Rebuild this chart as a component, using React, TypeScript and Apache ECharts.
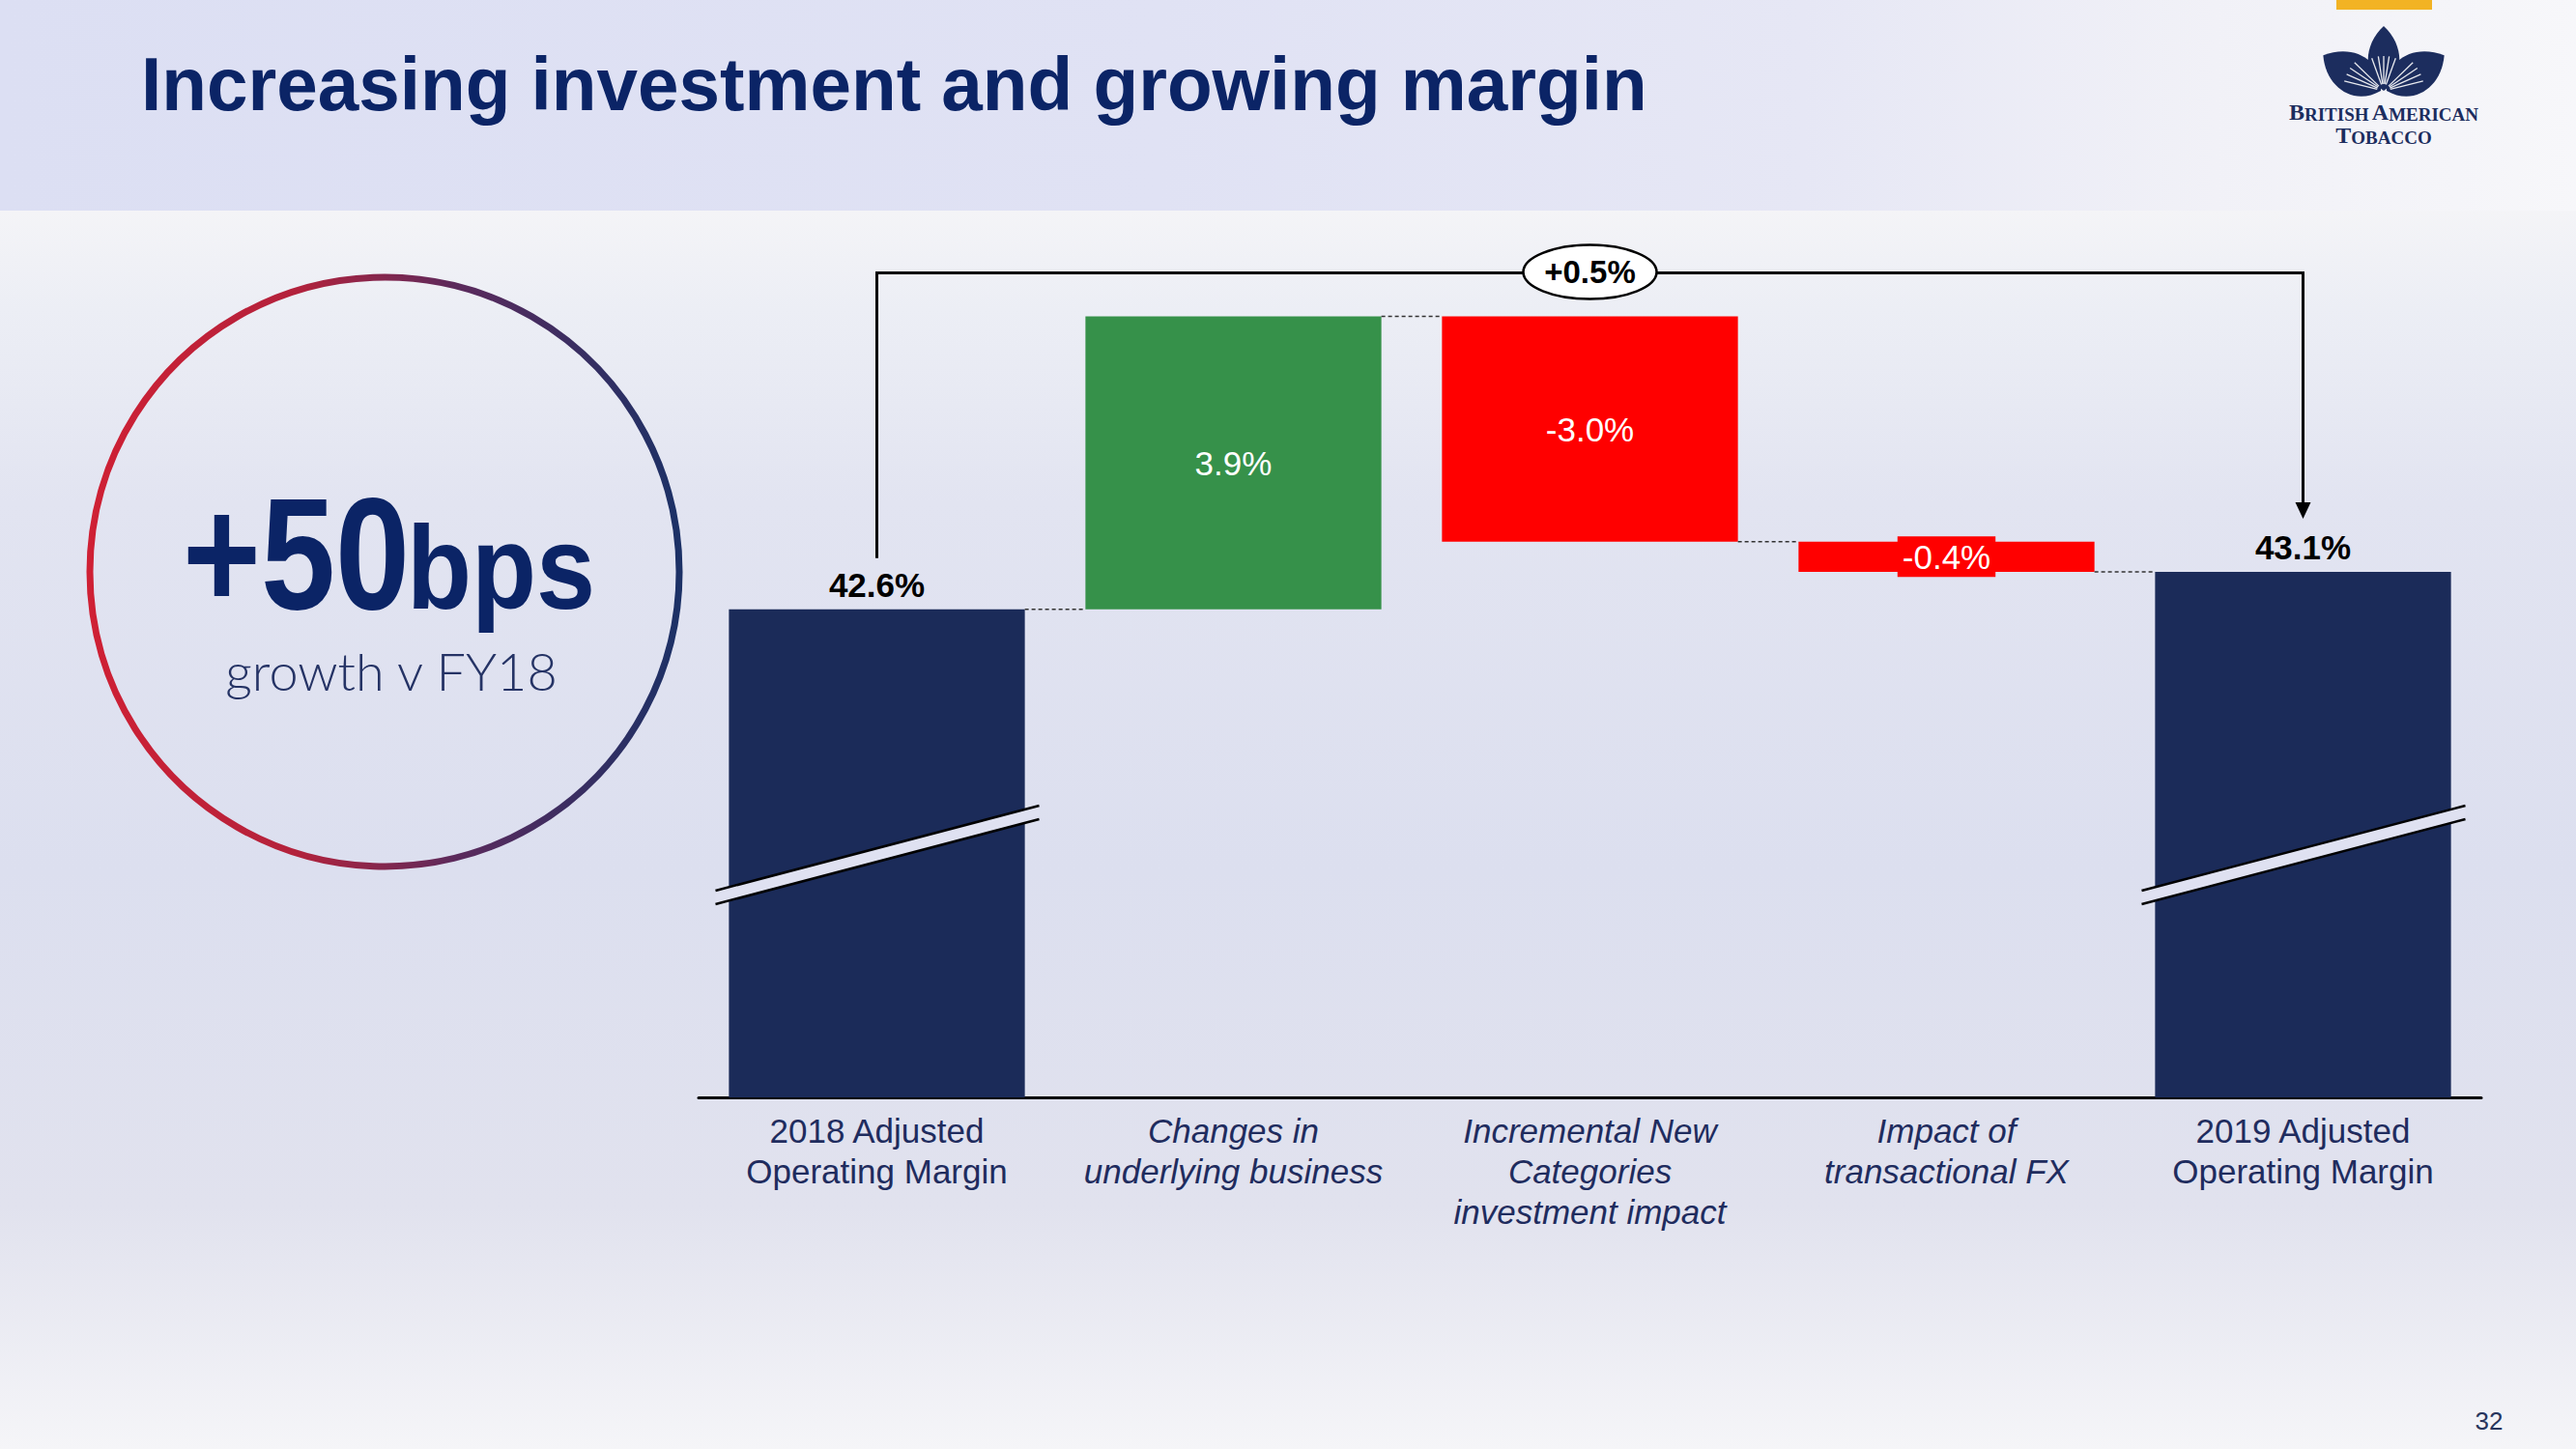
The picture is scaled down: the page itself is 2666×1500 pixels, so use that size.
import React, { useEffect, useRef } from 'react';
import * as echarts from 'echarts';

// ---------- data ----------
const categories = [
  '2018 Adjusted\nOperating Margin',
  'Changes in\nunderlying business',
  'Incremental New\nCategories\ninvestment impact',
  'Impact of\ntransactional FX',
  '2019 Adjusted\nOperating Margin',
];
const italicCategory = [false, true, true, true, false];
const startMargin = 42.6;
const changes = [3.9, -3.0, -0.4];
const endMargin = 43.1;
const growthText = '+0.5%';
const yMin = 36.1;
const yMax = 48;

// ---------- styles ----------
const NAVY = '#1b2b59';
const GREEN = '#36914a';
const RED = '#ff0000';
const TITLE_NAVY = '#0b2466';
const SANS = '"Liberation Sans", Arial, sans-serif';

const LEAF_D = 'M0 0 C-0.34 -0.22 -0.32 -0.72 0 -1 C0.32 -0.72 0.34 -0.22 0 0 Z';
echarts.graphic.registerShape('leaf', echarts.graphic.extendPath(LEAF_D, {}));

// waterfall helpers built from the arrays above
const n = categories.length;
const bases: number[] = [0];
const heights: number[] = [startMargin];
const ends: number[] = [startMargin];
let cum = startMargin;
changes.forEach((c) => {
  const next = +(cum + c).toFixed(2);
  bases.push(Math.min(cum, next));
  heights.push(+Math.abs(c).toFixed(2));
  ends.push(next);
  cum = next;
});
bases.push(0);
heights.push(endMargin);
ends.push(endMargin);

const labelText = (i: number) => {
  if (i === 0) return startMargin.toFixed(1) + '%';
  if (i === n - 1) return endMargin.toFixed(1) + '%';
  const c = changes[i - 1];
  return (c > 0 ? '' : '-') + Math.abs(c).toFixed(1) + '%';
};

function buildOption() {
  const visible = heights.map((h, i) => {
    const isTotal = i === 0 || i === n - 1;
    const c = isTotal ? 0 : changes[i - 1];
    const color = isTotal ? NAVY : c > 0 ? GREEN : RED;
    const isLast = i === n - 2;
    return {
      value: h,
      itemStyle: { color },
      label: isTotal
        ? {
            show: true,
            position: 'top',
            distance: 8,
            formatter: () => labelText(i),
            color: '#000',
            fontWeight: 'bold',
            fontSize: 35,
            fontFamily: SANS,
          }
        : {
            show: true,
            position: 'inside',
            formatter: () => labelText(i),
            color: '#fff',
            fontSize: 35,
            fontFamily: SANS,
            backgroundColor: isLast ? RED : 'transparent',
            padding: isLast ? [0, 5] : 0,
            lineHeight: 42,
          },
    };
  });
  return {
    animation: false,
    backgroundColor: 'transparent',
    grid: { left: 723, right: 98, top: 211, bottom: 364, containLabel: false },
    xAxis: {
      type: 'category',
      data: categories.map((c, i) => ({
        value: c,
        textStyle: { fontStyle: italicCategory[i] ? 'italic' : 'normal' },
      })),
      axisLine: { show: true, lineStyle: { color: '#000', width: 3 } },
      axisTick: { show: false },
      axisLabel: {
        interval: 0,
        margin: 13,
        color: '#1f2c5e',
        fontSize: 35,
        lineHeight: 42,
        fontFamily: SANS,
        verticalAlign: 'top',
      },
    },
    yAxis: {
      type: 'value',
      min: yMin,
      max: yMax,
      show: false,
      splitLine: { show: false },
    },
    series: [
      {
        type: 'bar',
        stack: 'wf',
        data: bases,
        itemStyle: { color: 'transparent' },
        barWidth: '83%',
        silent: true,
        clip: true,
      },
      {
        type: 'bar',
        stack: 'wf',
        data: visible,
        barWidth: '83%',
        clip: true,
      },
    ],
  };
}

function buildGraphic(chart: any) {
  const px = (i: number, v: number) => chart.convertToPixel({ gridIndex: 0 }, [i, v]) as number[];
  const band = px(1, yMin)[0] - px(0, yMin)[0];
  const half = band * 0.415;
  const baseY = px(0, yMin)[1];
  const els: any[] = [];

  // title
  els.push({
    type: 'text',
    x: 146,
    y: 87,
    scaleX: 0.98,
    style: {
      text: 'Increasing investment and growing margin',
      fill: TITLE_NAVY,
      font: `bold 78px ${SANS}`,
      align: 'left',
      verticalAlign: 'middle',
    },
  });

  // yellow tab
  els.push({ type: 'rect', shape: { x: 2418, y: 0, width: 99, height: 10 }, style: { fill: '#f2b324' } });

  // logo leaves
  const lx = 2467, ly = 94;
  els.push({ type: 'leaf', x: lx - 3, y: ly, scaleX: 84, scaleY: 70, rotation: 1.02, style: { fill: '#1c2d5e' } });
  els.push({ type: 'leaf', x: lx + 3, y: ly, scaleX: 84, scaleY: 70, rotation: -1.02, style: { fill: '#1c2d5e' } });
  els.push({ type: 'leaf', x: lx, y: ly, scaleX: 66, scaleY: 67, rotation: 0, style: { fill: '#1c2d5e' } });
  const rays = [-76, -66, -56, -46, -20, -9, 0, 9, 20, 46, 56, 66, 76];
  rays.forEach((d) => {
    const a = (d * Math.PI) / 180;
    const r2 = Math.abs(d) > 40 ? 42 : 36;
    els.push({
      type: 'line',
      shape: {
        x1: lx + Math.sin(a) * 7,
        y1: ly - Math.cos(a) * 7,
        x2: lx + Math.sin(a) * r2,
        y2: ly - Math.cos(a) * r2,
      },
      style: { stroke: '#ffffff', lineWidth: 1.3, opacity: 0.9 },
    });
  });
  const serif = '"Liberation Serif", "DejaVu Serif", serif';
  const rich = {
    c: { fontSize: 24, fontWeight: 'bold', fontFamily: serif, fill: '#1c2d5e', verticalAlign: 'bottom', lineHeight: 24 },
    s: { fontSize: 19, fontWeight: 'bold', fontFamily: serif, fill: '#1c2d5e', verticalAlign: 'bottom', lineHeight: 24 },
  };
  els.push({
    type: 'text',
    x: lx,
    y: 116,
    style: { text: '{c|B}{s|RITISH} {c|A}{s|MERICAN}', align: 'center', verticalAlign: 'middle', rich },
  });
  els.push({
    type: 'text',
    x: lx,
    y: 140,
    style: { text: '{c|T}{s|OBACCO}', align: 'center', verticalAlign: 'middle', rich },
  });

  // circle callout
  els.push({
    type: 'circle',
    shape: { cx: 398, cy: 592, r: 305 },
    style: {
      fill: 'none',
      lineWidth: 7,
      stroke: new echarts.graphic.LinearGradient(0, 0, 1, 0, [
        { offset: 0, color: '#cf2034' },
        { offset: 0.35, color: '#b3223c' },
        { offset: 0.62, color: '#5c2a5c' },
        { offset: 1, color: '#1c3166' },
      ]),
    },
  });
  els.push({
    type: 'text',
    x: 189,
    y: 573,
    scaleX: 0.84,
    style: { text: '+50', fill: TITLE_NAVY, font: `bold 165px ${SANS}`, align: 'left', verticalAlign: 'middle' },
  });
  els.push({
    type: 'text',
    x: 421,
    y: 588,
    scaleX: 0.9,
    style: { text: 'bps', fill: TITLE_NAVY, font: `bold 122px ${SANS}`, align: 'left', verticalAlign: 'middle' },
  });
  els.push({
    type: 'text',
    x: 405,
    y: 694,
    style: { text: 'growth v FY18', fill: '#253365', font: '300 54px Lato, "Noto Sans", sans-serif', align: 'center', verticalAlign: 'middle' },
  });

  // dashed connectors
  for (let i = 0; i < n - 1; i++) {
    const y = px(i, ends[i])[1];
    els.push({
      type: 'line',
      z: 50,
      shape: { x1: px(i, ends[i])[0] + half, y1: y, x2: px(i + 1, ends[i])[0] - half, y2: y },
      style: { stroke: '#333', lineWidth: 1.5, lineDash: [4, 3] },
    });
  }

  // break marks on total bars
  [0, n - 1].forEach((i) => {
    const cx = px(i, yMin)[0];
    const cy = baseY - 251;
    const x1 = cx - 167, x2 = cx + 168, y1 = cy + 44, y2 = cy - 44;
    const g = 7;
    els.push({
      type: 'polygon',
      z: 50,
      shape: { points: [[x1, y1 - g], [x2, y2 - g], [x2, y2 + g], [x1, y1 + g]] },
      style: { fill: '#dfe1f1' },
    });
    els.push({ type: 'line', z: 51, shape: { x1, y1: y1 - g, x2, y2: y2 - g }, style: { stroke: '#000', lineWidth: 2.5 } });
    els.push({ type: 'line', z: 51, shape: { x1, y1: y1 + g, x2, y2: y2 + g }, style: { stroke: '#000', lineWidth: 2.5 } });
  });

  // bracket arrow
  const leftX = px(0, startMargin)[0];
  const rightX = px(n - 1, endMargin)[0];
  const topY = px(1, ends[1])[1] - 45;
  const leftBottom = px(0, startMargin)[1] - 53;
  const tipY = px(n - 1, endMargin)[1] - 55;
  els.push({
    type: 'polyline',
    z: 50,
    shape: { points: [[leftX, leftBottom], [leftX, topY], [rightX, topY], [rightX, tipY - 12]] },
    style: { stroke: '#000', lineWidth: 3, fill: 'none' },
  });
  els.push({
    type: 'polygon',
    z: 50,
    shape: { points: [[rightX - 8, tipY - 17], [rightX + 8, tipY - 17], [rightX, tipY]] },
    style: { fill: '#000' },
  });
  const midX = px(2, yMin)[0];
  els.push({
    type: 'ellipse',
    z: 52,
    shape: { cx: midX, cy: topY - 1, rx: 69, ry: 28 },
    style: { fill: '#fff', stroke: '#000', lineWidth: 2.5 },
  });
  els.push({
    type: 'text',
    z: 53,
    x: midX,
    y: topY - 1,
    style: { text: growthText, fill: '#000', font: `bold 33px ${SANS}`, align: 'center', verticalAlign: 'middle' },
  });

  // page number
  els.push({
    type: 'text',
    x: 2576,
    y: 1471,
    style: { text: '32', fill: '#27355d', font: `26px ${SANS}`, align: 'center', verticalAlign: 'middle' },
  });

  return els;
}

const BG =
  'linear-gradient(to right, #dcdff3 0%, #e0e2f4 45%, #e6e7f5 70%, #f1f1f7 86%, #f7f7fa 100%) 0 0 / 100% 218px no-repeat, ' +
  'linear-gradient(to bottom, #f4f4f7 218px, #eceef5 320px, #e2e4f1 520px, #dcdfef 900px, #e1e2ee 1250px, #f5f5f8 1500px)';

export default function App() {
  const ref = useRef<HTMLDivElement>(null);
  useEffect(() => {
    document.body.style.margin = '0';
    const chart = echarts.init(ref.current!, null, { renderer: 'svg' });
    chart.setOption(buildOption() as any);
    chart.setOption({ graphic: buildGraphic(chart) } as any);
    return () => chart.dispose();
  }, []);
  return (
    <div
      ref={ref}
      style={{ position: 'absolute', left: 0, top: 0, width: 2666, height: 1500, background: BG }}
    />
  );
}
